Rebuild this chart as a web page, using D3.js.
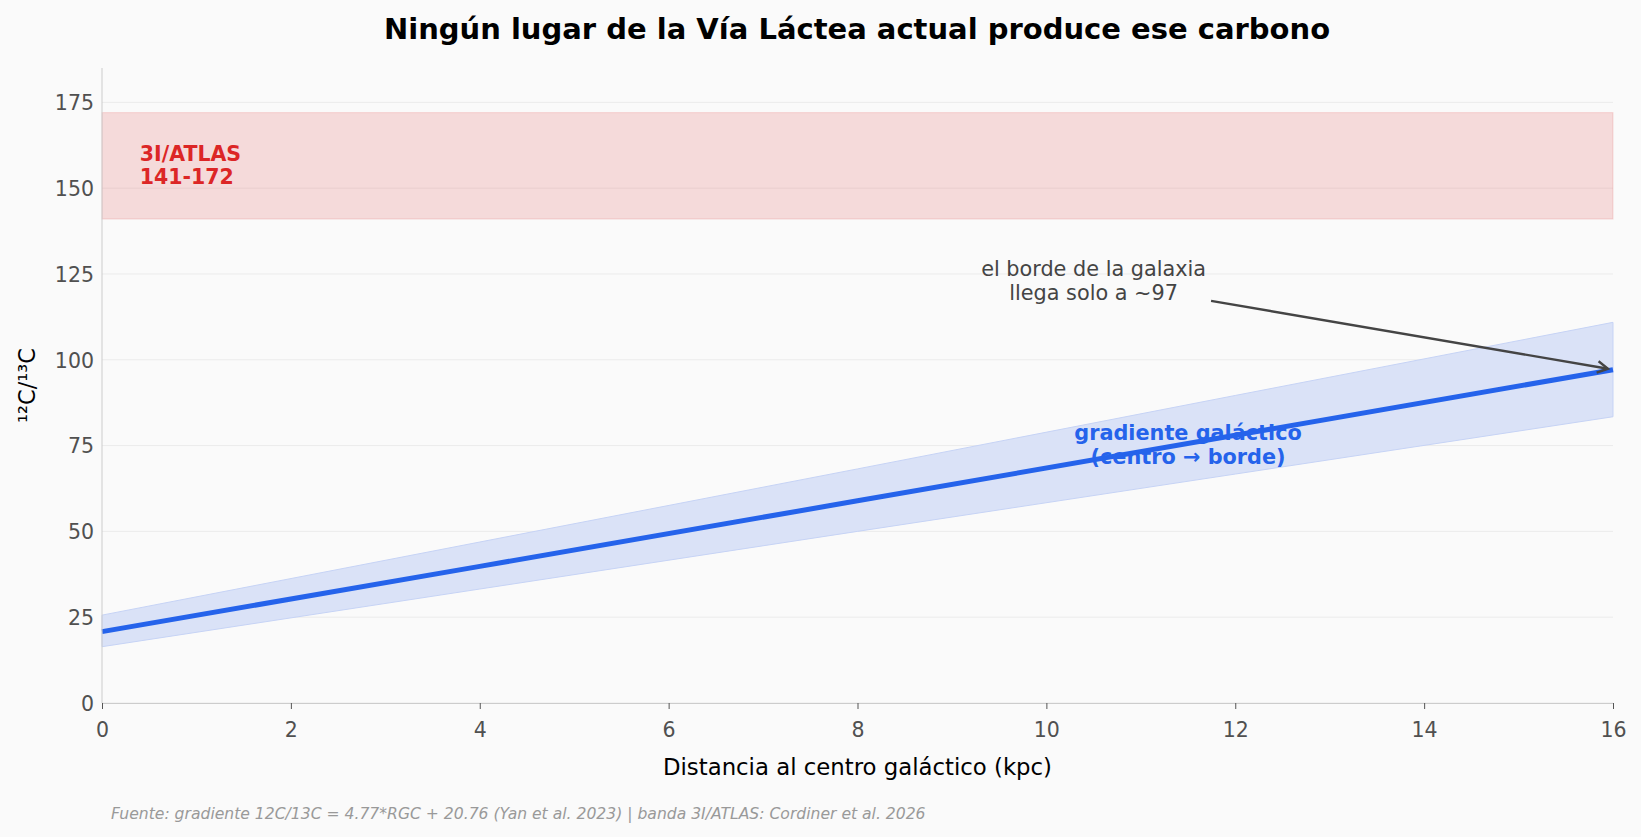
<!DOCTYPE html>
<html>
<head>
<meta charset="utf-8">
<script src="https://cdn.jsdelivr.net/npm/d3@7"></script>
<style>
  body { margin: 0; background: #fafafa; }
  svg { display: block; font-family: "DejaVu Sans", sans-serif; }
</style>
</head>
<body>
<script>
"use strict"

// values
const distKpc = [0, 4, 8, 12, 16];
const ratioFit = [20.8, 39.8, 58.9, 78.0, 97.1];
const bandHigh = [25.6, 46.9, 68.2, 89.6, 110.9];
const bandLow = [16.4, 33.2, 50.0, 66.7, 83.4];
const atlasRange = [141, 172];
const xTicks = [0, 2, 4, 6, 8, 10, 12, 14, 16];
const yTicks = [0, 25, 50, 75, 100, 125, 150, 175];

const w = 1641, h = 837;
const margin = {top: 68, right: 28, bottom: 134, left: 102};

const svg = d3.select('body').append('svg')
	.attr('width', w)
	.attr('height', h)
	.style('background-color', '#fafafa');

const xScale = d3.scaleLinear().domain([0, 16]).range([margin.left, w - margin.right]);
const yScale = d3.scaleLinear().domain([0, 185]).range([h - margin.bottom, margin.top]);

// grid
svg.append('g')
	.selectAll('line')
	.data(yTicks)
	.enter()
	.append('line')
	.attr('x1', xScale(0)).attr('x2', xScale(16))
	.attr('y1', d => yScale(d)).attr('y2', d => yScale(d))
	.attr('stroke', '#ebebeb')
	.attr('stroke-width', 1);

// 3I/ATLAS band
svg.append('rect')
	.attr('x', xScale(0))
	.attr('width', xScale(16) - xScale(0))
	.attr('y', yScale(atlasRange[1]))
	.attr('height', yScale(atlasRange[0]) - yScale(atlasRange[1]))
	.attr('fill', 'rgba(220,38,38,0.15)')
	.attr('stroke', 'rgba(220,38,38,0.15)')
	.attr('stroke-width', 1);

svg.append('text')
	.attr('fill', '#dc2626')
	.attr('font-weight', 'bold')
	.attr('font-size', 20.5)
	.selectAll('tspan')
	.data(['3I/ATLAS', '141-172'])
	.enter()
	.append('tspan')
	.attr('x', xScale(0.4))
	.attr('y', (d, i) => yScale((atlasRange[0] + atlasRange[1]) / 2) + (i === 0 ? -5 : 18))
	.text(d => d);

// gradient band and line
const pts = distKpc.map((d, i) => ({x: d, lo: bandLow[i], hi: bandHigh[i], y: ratioFit[i]}));

svg.append('path')
	.datum(pts)
	.attr('d', d3.area().x(d => xScale(d.x)).y0(d => yScale(d.lo)).y1(d => yScale(d.hi)))
	.attr('fill', '#dae2f7')
	.attr('stroke', '#c6d3f5')
	.attr('stroke-width', 1);

svg.append('path')
	.datum(pts)
	.attr('d', d3.line().x(d => xScale(d.x)).y(d => yScale(d.y)))
	.attr('fill', 'none')
	.attr('stroke', '#2563eb')
	.attr('stroke-width', 5);

// axes
const xAxis = svg.append('g')
	.attr('transform', 'translate(0,' + yScale(0) + ')')
	.call(d3.axisBottom(xScale).tickValues(xTicks).tickSize(6).tickPadding(10).tickFormat(d3.format('d')));
const yAxis = svg.append('g')
	.attr('transform', 'translate(' + xScale(0) + ',0)')
	.call(d3.axisLeft(yScale).tickValues(yTicks).tickSize(0).tickPadding(8));

[xAxis, yAxis].forEach(a => {
	a.select('.domain').attr('stroke', '#cccccc');
	a.selectAll('.tick line').attr('stroke', '#555');
	a.selectAll('.tick text')
		.attr('fill', '#505050')
		.attr('font-size', 20.5)
		.attr('font-family', '"DejaVu Sans", sans-serif');
});
yAxis.select('.domain').attr('d', 'M0,' + yScale(185) + 'V' + yScale(0));
xAxis.selectAll('.tick text').attr('dy', '0.9em');
yAxis.selectAll('.tick text').attr('dy', '0.36em');

// labels
svg.append('text')
	.attr('x', 857)
	.attr('y', 39)
	.attr('text-anchor', 'middle')
	.attr('font-weight', 'bold')
	.attr('font-size', 29)
	.attr('fill', '#000')
	.text('Ningún lugar de la Vía Láctea actual produce ese carbono');

svg.append('text')
	.attr('x', (xScale(0) + xScale(16)) / 2)
	.attr('y', 775)
	.attr('text-anchor', 'middle')
	.attr('font-size', 22.8)
	.attr('fill', '#000')
	.text('Distancia al centro galáctico (kpc)');

svg.append('text')
	.attr('transform', 'translate(35,' + (yScale(0) + yScale(185)) / 2 + ') rotate(-90)')
	.attr('text-anchor', 'middle')
	.attr('font-size', 22.5)
	.attr('fill', '#000')
	.text('¹²C/¹³C');

svg.append('text')
	.attr('x', 111)
	.attr('y', 819)
	.attr('font-size', 15.6)
	.attr('font-style', 'italic')
	.attr('fill', '#999')
	.text('Fuente: gradiente 12C/13C = 4.77*RGC + 20.76 (Yan et al. 2023) | banda 3I/ATLAS: Cordiner et al. 2026');

// blue label
svg.append('text')
	.attr('text-anchor', 'middle')
	.attr('fill', '#2563eb')
	.attr('font-weight', 'bold')
	.attr('font-size', 20.8)
	.selectAll('tspan')
	.data(['gradiente galáctico', '(centro → borde)'])
	.enter()
	.append('tspan')
	.attr('x', xScale(11.5))
	.attr('y', (d, i) => yScale(75.5) + (i === 0 ? -4 : 20))
	.text(d => d);

// annotation with arrow
const note = svg.append('text')
	.attr('text-anchor', 'middle')
	.attr('fill', '#444')
	.attr('font-size', 20.8);
note.selectAll('tspan')
	.data(['el borde de la galaxia', 'llega solo a ~97'])
	.enter()
	.append('tspan')
	.attr('x', xScale(10.5))
	.attr('y', (d, i) => yScale(123) + (i === 0 ? -5 : 19))
	.text(d => d);

const bb = note.node().getBBox();
const pad = 5;
const cx = xScale(10.5), cy = yScale(123);
const tx = xScale(16) - 5, ty = yScale(ratioFit[ratioFit.length - 1]) - 1;
const dx = tx - cx, dy = ty - cy;
// where the line leaves the padded text box
const tX = (bb.x + bb.width + pad - cx) / dx;
const tY = (bb.y + bb.height + pad - cy) / dy;
const t0 = Math.min(tX, tY);
const sx = cx + dx * t0, sy = cy + dy * t0;

svg.append('line')
	.attr('x1', sx).attr('y1', sy)
	.attr('x2', tx).attr('y2', ty)
	.attr('stroke', '#444')
	.attr('stroke-width', 2.4);

const ang = Math.atan2(dy, dx);
const hl = 12, ha = 0.5;
svg.append('path')
	.attr('d', 'M' + (tx - hl * Math.cos(ang - ha)) + ',' + (ty - hl * Math.sin(ang - ha))
		+ 'L' + tx + ',' + ty
		+ 'L' + (tx - hl * Math.cos(ang + ha)) + ',' + (ty - hl * Math.sin(ang + ha)))
	.attr('fill', 'none')
	.attr('stroke', '#444')
	.attr('stroke-width', 2.4);
</script>
</body>
</html>
